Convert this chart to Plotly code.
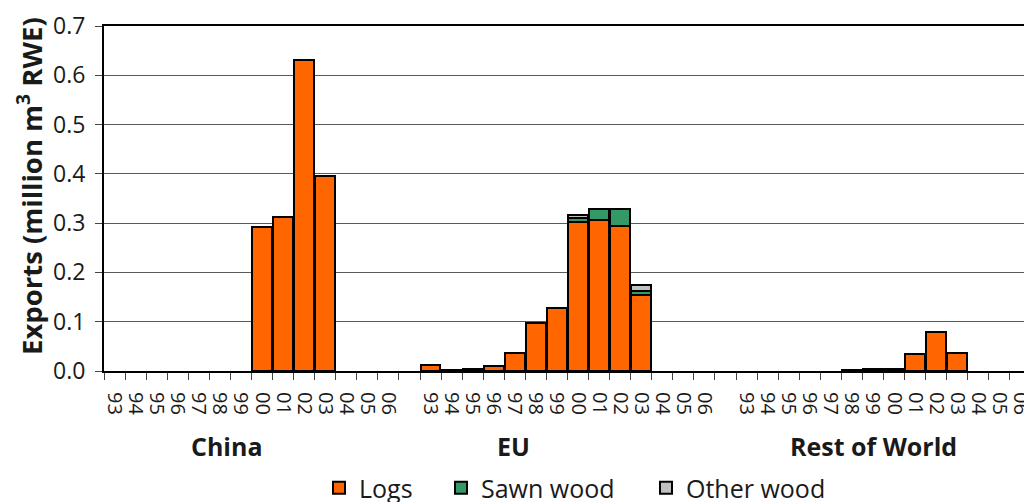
import plotly.graph_objects as go

years = ["93", "94", "95", "96", "97", "98", "99", "00", "01", "02", "03", "04", "05", "06"]
regions = ["China", "EU", "Rest of World"]

china_logs = [0, 0, 0, 0, 0, 0, 0, 0.292, 0.313, 0.631, 0.395, 0, 0, 0]
china_sawn = [0] * 14
china_other = [0] * 14

eu_logs = [0.012, 0.003, 0.005, 0.011, 0.036, 0.097, 0.128, 0.302, 0.307, 0.294, 0.154, 0, 0, 0]
eu_sawn = [0, 0, 0, 0, 0, 0, 0, 0.008, 0.022, 0.035, 0.008, 0, 0, 0]
eu_other = [0, 0, 0, 0, 0, 0, 0, 0.007, 0, 0, 0.012, 0, 0, 0]

row_logs = [0, 0, 0, 0, 0, 0.002, 0.004, 0.005, 0.035, 0.079, 0.037, 0, 0, 0]
row_sawn = [0] * 14
row_other = [0] * 14

series_names = ["Logs", "Sawn wood", "Other wood"]
series_colors = ["#FF6600", "#339966", "#C0C0C0"]
data = {
    "Logs": [china_logs, eu_logs, row_logs],
    "Sawn wood": [china_sawn, eu_sawn, row_sawn],
    "Other wood": [china_other, eu_other, row_other],
}
y_title = "<b>Exports (million m<sup>3</sup> RWE)</b>"

# Build category list with blank separators between regions
cats, labels = [], []
for i, r in enumerate(regions):
    for y in years:
        cats.append(f"{r}|{y}")
        labels.append(y)
    if i < len(regions) - 1:
        cats.append(" " * (i + 1))
        labels.append("")

font_family = "Open Sans, Noto Sans, sans-serif"
txt_color = "#1a1a1a"

# page body has an 8px default margin; compensate so the figure lines up
OFF = 8
W, H = 1032, 502
plot_l, plot_r, plot_t, plot_b = 104, 1031, 26, 371
pw = plot_r - plot_l
ph = plot_b - plot_t

legend_ids = ["legend", "legend2", "legend3"]
legend_px = [333, 455, 660]

fig = go.Figure()
for name, color, lid in zip(series_names, series_colors, legend_ids):
    yvals = []
    for i, r in enumerate(regions):
        yvals += [v if v else None for v in data[name][i]]
        if i < len(regions) - 1:
            yvals.append(None)
    fig.add_trace(go.Bar(
        x=cats, y=yvals, name=name, legend=lid,
        marker=dict(color=color, line=dict(color="black", width=2)),
    ))

legend_common = dict(
    orientation="h", xref="container", yref="container",
    xanchor="left", y=(H - (488 - OFF)) / H, yanchor="middle",
    font=dict(size=25, family=font_family, color=txt_color),
    bgcolor="rgba(0,0,0,0)", itemwidth=30,
)
legend_layout = {}
for lid, px in zip(legend_ids, legend_px):
    legend_layout[lid] = dict(legend_common, x=(px - OFF - 14) / W)

fig.update_layout(
    barmode="stack",
    bargap=0.07,
    width=W, height=H,
    margin=dict(l=plot_l - OFF, r=W - (plot_r - OFF), t=plot_t - OFF,
                b=H - (plot_b - OFF), autoexpand=False),
    plot_bgcolor="white", paper_bgcolor="white",
    font=dict(family=font_family, color=txt_color),
    showlegend=True,
    **legend_layout,
    xaxis=dict(
        type="category", categoryorder="array", categoryarray=cats,
        tickmode="array", tickvals=cats, ticktext=labels,
        tickangle=90, tickson="boundaries",
        ticks="outside", ticklen=7, tickcolor="#444", tickwidth=1,
        showline=True, linecolor="black", linewidth=2, mirror=True,
        showgrid=False, automargin=False,
        tickfont=dict(size=20, family=font_family, color=txt_color),
        ticklabelstandoff=15,
        range=[-0.5, len(cats) - 0.5],
    ),
    yaxis=dict(
        range=[0, 0.7], dtick=0.1, tickformat=".1f",
        ticks="outside", ticklen=7, tickcolor="#444",
        showline=True, linecolor="black", linewidth=2,
        showgrid=True, gridcolor="#5a5a5a", gridwidth=1,
        zeroline=False, automargin=False,
        tickfont=dict(size=23, family=font_family, color=txt_color),
        ticklabelstandoff=5,
    ),
)

fig.add_shape(type="line", xref="paper", yref="paper", x0=1, x1=1, y0=0, y1=1,
              line=dict(color="#cccccc", width=1))

# y-axis title (placed as in the reference, slightly above plot centre)
fig.add_annotation(
    text=y_title, xref="paper", yref="paper",
    x=(30 - plot_l) / pw, y=(plot_b - 186) / ph,
    xanchor="center", yanchor="middle", textangle=-90, showarrow=False,
    font=dict(size=27.5, family=font_family, color=txt_color),
)

group_x = [227, 513, 873]
for r, px in zip(regions, group_x):
    fig.add_annotation(
        text=f"<b>{r}</b>", xref="paper", yref="paper",
        x=(px - plot_l) / pw, y=(plot_b - 446) / ph,
        xanchor="center", yanchor="middle", showarrow=False,
        font=dict(size=25, family=font_family, color=txt_color),
    )

fig.write_html("out.html")
